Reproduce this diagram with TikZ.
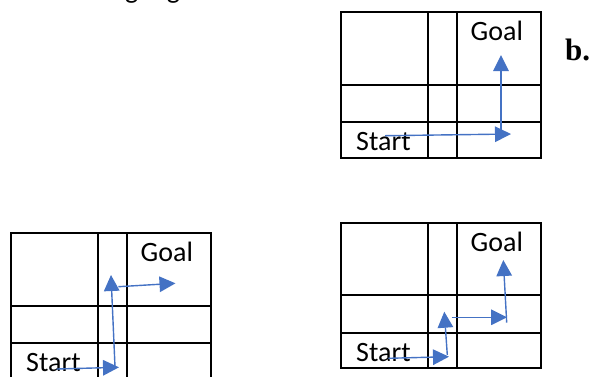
\documentclass[tikz,border=0pt]{standalone}
\usepackage{fontspec}
\setmainfont{Carlito}
\newfontfamily\serifbold{Liberation Serif}
\usetikzlibrary{arrows.meta}
\definecolor{arrowblue}{RGB}{68,114,196}
\begin{document}
\begin{tikzpicture}[x=1pt,y=-1pt,
  gridline/.style={line width=1.9pt, black},
  route/.style={draw=arrowblue, line width=1.4pt, -{Triangle[length=16pt,width=15.5pt]}},
  lbl/.style={font=\fontsize{28}{30}\selectfont, inner sep=0pt, anchor=base west},
  boldlbl/.style={font=\serifbold\bfseries\fontsize{31}{33}\selectfont, inner sep=0pt, anchor=base west}]
\useasboundingbox (0,0) rectangle (591,376);
\clip (0,0) rectangle (591,376);
% fragments of text above the picture
\node[lbl, anchor=base] (fragA) at (131.7,-2) {g};
\node[lbl, anchor=base] (fragB) at (173.5,-2) {g};
% grids
\foreach \gx/\gy in {341/12.3, 11/233.3, 341/222.7}{
  \begin{scope}[shift={(\gx,\gy)}]
    \draw[gridline] (0,0) rectangle (199.7,145.5);
    \draw[gridline] (87.3,0) -- (87.3,145.5);
    \draw[gridline] (115.7,0) -- (115.7,145.5);
    \draw[gridline] (0,72.7) -- (199.7,72.7);
    \draw[gridline] (0,110) -- (199.7,110);
  \end{scope}
}
% labels
\node[lbl] (goalT) at (470.5,40.7) {Goal};
\node[lbl] (startT) at (356,150.7) {Start};
\node[lbl] (goalL) at (140.5,261.7) {Goal};
\node[lbl] (startL) at (26,371) {Start};
\node[lbl] (goalR) at (470.5,251.1) {Goal};
\node[lbl] (startR) at (356,361.1) {Start};
\node[boldlbl] (blabel) at (565,60) {b.};
% route coordinates, top grid
\coordinate (t1s) at (385,135.7);
\coordinate (t1e) at (511,134);
\coordinate (t2s) at (501,130);
\coordinate (t2e) at (501,55);
% bottom-left grid
\coordinate (l1s) at (56.7,369);
\coordinate (l1e) at (119,367.3);
\coordinate (l2s) at (115,366.7);
\coordinate (l2e) at (111,275);
\coordinate (l3s) at (118.3,286.7);
\coordinate (l3e) at (175.5,283.3);
% bottom-right grid
\coordinate (r1s) at (388.3,358.3);
\coordinate (r1e) at (449,356.7);
\coordinate (r2s) at (447.3,355);
\coordinate (r2e) at (444.3,311.7);
\coordinate (r3s) at (451.7,317.3);
\coordinate (r3e) at (507,317.3);
\coordinate (r4s) at (506.7,322.7);
\coordinate (r4e) at (503.3,260);
\foreach \a/\b in {t1s/t1e,t2s/t2e,l1s/l1e,l2s/l2e,l3s/l3e,r1s/r1e,r2s/r2e,r3s/r3e,r4s/r4e}
  \draw[route] (\a) -- (\b);
\end{tikzpicture}
\end{document}
